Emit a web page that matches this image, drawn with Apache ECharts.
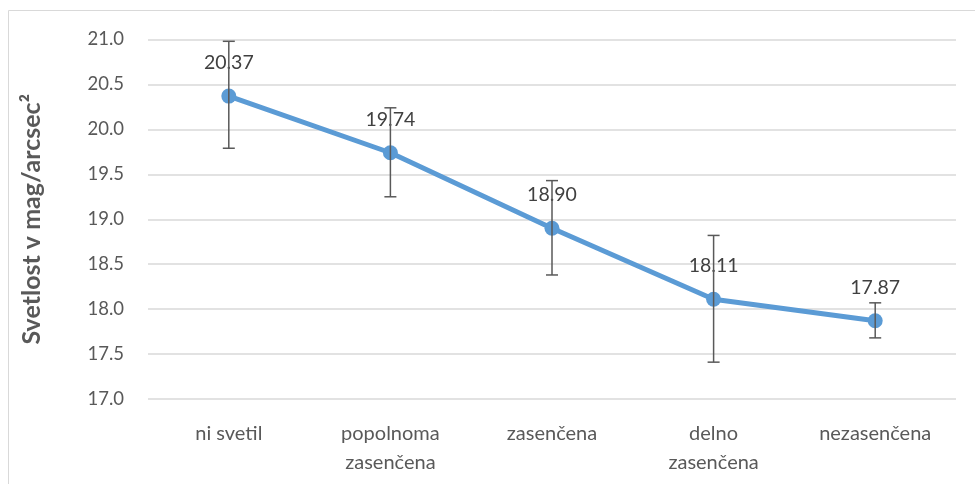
<!DOCTYPE html>
<html>
<head>
<meta charset="utf-8">
<script src="https://cdn.jsdelivr.net/npm/echarts@6/dist/echarts.min.js"></script>
<style>
  html, body { margin: 0; padding: 0; background: #fff; }
  #chart { width: 975px; height: 484px; }
</style>
</head>
<body>
<div id="chart"></div>
<script>
// podatki
var categories = ['ni svetil', 'popolnoma\nzasenčena', 'zasenčena', 'delno\nzasenčena', 'nezasenčena'];
var values = [20.37, 19.74, 18.90, 18.11, 17.87];
var errLow = [19.79, 19.25, 18.38, 17.41, 17.68];
var errHigh = [20.98, 20.24, 19.43, 18.82, 18.07];
var yTicks = [17.0, 17.5, 18.0, 18.5, 19.0, 19.5, 20.0, 20.5, 21.0];

var font = 'Lato, "Noto Sans", sans-serif';
var grey = '#595959';

var myChart = echarts.init(document.getElementById('chart'));

var errData = categories.map(function (c, i) {
  return [i, errLow[i], errHigh[i]];
});

myChart.setOption({
  animation: false,
  graphic: [{
    type: 'rect',
    silent: true,
    shape: { x: 8.5, y: 10.5, width: 1200, height: 1000 },
    style: { fill: 'none', stroke: '#d9d9d9', lineWidth: 1 }
  }],
  grid: {
    left: 148,
    right: 19,
    top: 39.5,
    bottom: 85,
    containLabel: false
  },
  xAxis: {
    type: 'category',
    data: categories,
    boundaryGap: true,
    axisLine: { show: false },
    axisTick: { show: false },
    axisLabel: {
      color: grey,
      fontFamily: font,
      fontSize: 20,
      lineHeight: 29,
      margin: 20
    }
  },
  yAxis: {
    type: 'value',
    min: yTicks[0],
    max: yTicks[yTicks.length - 1],
    interval: 0.5,
    name: 'Svetlost v mag/arcsec²',
    nameLocation: 'middle',
    nameGap: 104,
    nameTextStyle: {
      color: grey,
      fontFamily: font,
      fontSize: 25,
      fontWeight: 'bold'
    },
    axisLine: { show: false },
    axisTick: { show: false },
    splitLine: { lineStyle: { color: '#d9d9d9', width: 1.5 } },
    axisLabel: {
      color: grey,
      fontFamily: font,
      fontSize: 18.5,
      margin: 24,
      formatter: function (v) { return v.toFixed(1); }
    }
  },
  series: [
    {
      type: 'line',
      data: values,
      symbol: 'circle',
      symbolSize: 15,
      lineStyle: { color: '#5b9bd5', width: 5 },
      itemStyle: { color: '#5b9bd5' },
      z: 2,
      label: {
        show: true,
        position: 'top',
        distance: 16,
        color: '#404040',
        fontFamily: font,
        fontSize: 19.5,
        formatter: function (p) { return p.value.toFixed(2); }
      }
    },
    {
      type: 'custom',
      data: errData,
      z: 5,
      renderItem: function (params, api) {
        var x = api.value(0);
        var top = api.coord([x, api.value(2)]);
        var bot = api.coord([x, api.value(1)]);
        var w = 6;
        var st = { stroke: grey, lineWidth: 1.5 };
        return {
          type: 'group',
          children: [
            { type: 'line', shape: { x1: top[0], y1: top[1], x2: bot[0], y2: bot[1] }, style: st },
            { type: 'line', shape: { x1: top[0] - w, y1: top[1], x2: top[0] + w, y2: top[1] }, style: st },
            { type: 'line', shape: { x1: bot[0] - w, y1: bot[1], x2: bot[0] + w, y2: bot[1] }, style: st }
          ]
        };
      }
    }
  ]
});
</script>
</body>
</html>
